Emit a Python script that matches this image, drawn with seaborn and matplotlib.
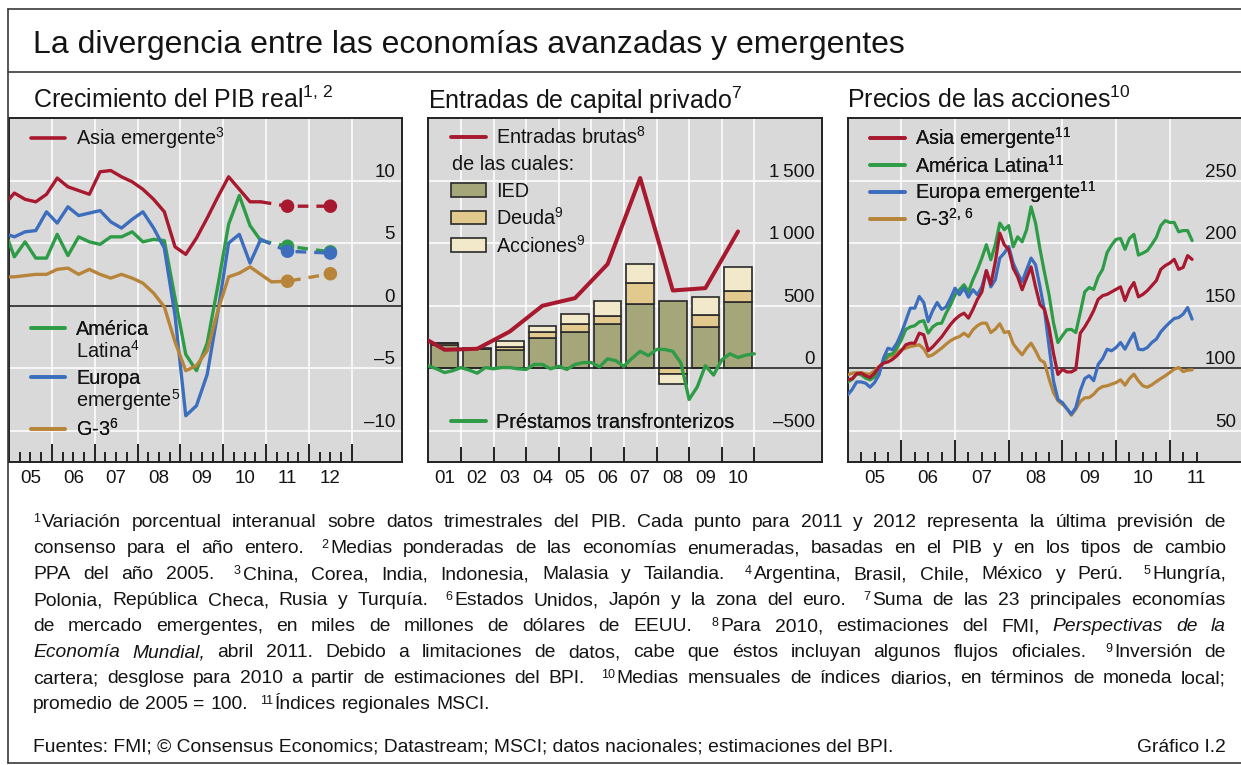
import numpy as np
import pandas as pd
import matplotlib
matplotlib.use("Agg")
import matplotlib.pyplot as plt
import seaborn as sns
from matplotlib.ticker import FuncFormatter, NullFormatter
from matplotlib.lines import Line2D
from matplotlib.patches import Patch

# ---------------------------------------------------------------- DATA
# Panel 1: real GDP growth (% y/y), quarterly, first value = 2004Q4
gdp_first_quarter = 2004.75
gdp_asia = [8.0, 9.0, 8.5, 8.3, 8.9, 10.2, 9.5, 9.2, 8.9, 10.7, 10.8, 10.3, 9.9,
            9.3, 8.5, 7.5, 4.7, 4.1, 5.4, 7.0, 8.7, 10.3, 9.3, 8.3, 8.3]
gdp_latam = [6.2, 3.9, 5.1, 3.8, 3.8, 5.7, 4.0, 5.5, 5.1, 4.9, 5.5, 5.5, 5.9,
             5.1, 5.3, 5.2, 0.6, -3.9, -5.2, -3.0, 1.6, 6.5, 8.8, 6.4, 5.2]
gdp_europe = [5.8, 5.5, 5.9, 6.0, 7.5, 6.6, 7.9, 7.2, 7.4, 7.6, 6.7, 6.2, 6.9,
              7.5, 6.2, 4.6, -0.8, -8.8, -8.0, -5.5, -0.5, 5.0, 5.7, 3.4, 5.3]
gdp_g3 = [2.3, 2.3, 2.4, 2.5, 2.5, 2.9, 3.0, 2.5, 2.9, 2.5, 2.2, 2.5, 2.2,
          1.8, 1.0, -0.1, -2.9, -5.2, -4.8, -3.6, -0.4, 2.3, 2.6, 3.1, 2.5, 1.9]
fc_years = [2011, 2012]
fc_asia = [7.95, 7.95]
fc_latam = [4.75, 4.3]
fc_europe = [4.35, 4.2]
fc_g3 = [1.95, 2.55]

# Panel 2: private capital inflows (USD bn)
flow_years = list(range(2000, 2011))
gross_inflows = [295, 147, 155, 293, 499, 560, 832, 1520, 621, 640, 1093]
bar_years = list(range(2001, 2011))
fdi = [182, 152, 147, 245, 293, 352, 515, 541, 333, 533]
debt = [23, 0, 19, 48, 59, 67, 168, -45, 93, 88]
equity = [0, 13, 48, 48, 80, 117, 149, -80, 147, 184]
loans_first_quarter_end = 2001.0   # end of 2000Q4
cross_border_loans = [19, -5, -35, -20, 5, -15, -40, 5, -5, 5, 5, -5, -10, 30, 30,
                      -5, 15, -10, 30, 45, 45, 10, 75, 60, 15, 80, 135, 100, 150,
                      150, 135, 40, -250, -150, 20, -55, 65, 115, 85, 105, 115]

# Panel 3: equity prices (2005 average = 100), monthly from Jan 2005
stock_first_month = 2005.0
eq_asia = [90.7, 91.5, 95.5, 96, 94, 92.5, 96, 101, 104, 105,
           107, 110, 114, 118.7, 120, 120, 128, 126.7, 114, 117,
           121, 125, 130, 135, 139, 142, 144, 140, 147, 155,
           161, 178, 167, 185, 208, 198.7, 194.7, 180, 173, 162.7,
           172, 181, 165, 150.7, 147, 133, 112, 95, 99, 97,
           97, 99, 128, 133, 139, 146, 155, 158, 159, 161,
           163, 165, 154, 163, 168.5, 157, 159, 162, 166, 170,
           179, 182, 184, 187, 179, 180.5, 190, 187]
eq_latam = [89, 91, 95.5, 94.7, 92, 90.7, 93, 98.7, 105, 110.7,
            111.5, 116, 122.7, 131, 133, 134, 137, 138, 128, 133,
            135.5, 136, 144, 150.7, 158.7, 162.7, 166.7, 161, 170.7, 178.7,
            188, 198.7, 186.7, 198.7, 216, 210.7, 214, 197, 205, 201,
            210.7, 229, 216, 195, 176.5, 159, 136.5, 120.5, 126, 130.7,
            131, 128.5, 144.5, 161, 164.5, 163, 173, 179, 192.5, 198.4,
            203, 203.7, 195, 203.7, 207, 190.4, 192, 194, 199, 204.5,
            214, 218, 216.5, 216.5, 209, 210, 210, 202]
eq_europe = [78.7, 83, 89, 89, 88, 84.8, 88.5, 94.7, 108, 116,
             114.7, 120, 128, 138, 148, 148, 157.3, 152.5, 137.3, 146,
             152.5, 147, 149, 156, 164, 158.7, 164, 156.8, 162.7, 158.7,
             165, 178, 165, 170.7, 188, 192, 197.3, 184, 176, 169,
             178.7, 188, 182.7, 165, 146, 118, 90, 75, 72.5, 67.7,
             63.2, 68.5, 82, 91.7, 94, 90, 103, 107.7, 115.2, 113.9,
             116.5, 120.5, 115.2, 121.9, 128, 115.2, 114.7, 116.5, 120.5, 123.2,
             129, 133, 136.5, 139.7, 140.5, 143.2, 148.5, 139.2]
eq_g3 = [94.7, 96, 96.5, 96.5, 95.5, 95.2, 98, 101.3, 104.5, 108.8,
         110, 112.5, 114.7, 116, 117.3, 118, 118.7, 115.5, 109.3, 110.7,
         113.3, 116, 119.2, 122, 124, 125.3, 128, 125.3, 130.7, 134,
         136, 136, 128.5, 131.2, 135.5, 128.5, 129.3, 119.5, 114.7, 110.7,
         116, 120, 114, 106.7, 104.5, 91.7, 80.5, 73.9, 71.2, 67.7,
         62.4, 67.2, 73.3, 76.3, 76.5, 79.2, 83.2, 85.3, 85.9, 87.2,
         88.5, 90.7, 86.4, 91.7, 95.2, 89.9, 85.9, 84.8, 86.7, 89.3,
         91.7, 93.9, 96.5, 99.2, 100.5, 97.3, 98.4, 98.7]

# Texts
main_title = "La divergencia entre las economías avanzadas y emergentes"
panel_titles = ["Crecimiento del PIB real$^{1,\\,2}$",
                "Entradas de capital privado$^{7}$",
                "Precios de las acciones$^{10}$"]
footnote_lines = [
    "[1]Variación porcentual interanual sobre datos trimestrales del PIB. Cada punto para 2011 y 2012 representa la última previsión de",
    "consenso para el año entero. [2]Medias ponderadas de las economías enumeradas, basadas en el PIB y en los tipos de cambio",
    "PPA del año 2005. [3]China, Corea, India, Indonesia, Malasia y Tailandia. [4]Argentina, Brasil, Chile, México y Perú. [5]Hungría,",
    "Polonia, República Checa, Rusia y Turquía. [6]Estados Unidos, Japón y la zona del euro. [7]Suma de las 23 principales economías",
    "de mercado emergentes, en miles de millones de dólares de EEUU. [8]Para 2010, estimaciones del FMI, _Perspectivas _de _la",
    "_Economía _Mundial, abril 2011. Debido a limitaciones de datos, cabe que éstos incluyan algunos flujos oficiales. [9]Inversión de",
    "cartera; desglose para 2010 a partir de estimaciones del BPI. [10]Medias mensuales de índices diarios, en términos de moneda local;",
    "promedio de 2005 = 100. [11]Índices regionales MSCI.",
]
sources = "Fuentes: FMI; © Consensus Economics; Datastream; MSCI; datos nacionales; estimaciones del BPI."
chart_id = "Gráfico I.2"

# ---------------------------------------------------------------- STYLE
sns.set_style("white")
plt.rcParams['font.family'] = ['Liberation Sans', 'DejaVu Sans']
plt.rcParams['mathtext.fontset'] = 'custom'
plt.rcParams['mathtext.rm'] = 'Liberation Sans'
plt.rcParams['mathtext.it'] = 'Liberation Sans:italic'
plt.rcParams['mathtext.bf'] = 'Liberation Sans:bold'
plt.rcParams['mathtext.sf'] = 'Liberation Sans'
plt.rcParams['axes.unicode_minus'] = False

RED = '#a8182f'
GREEN = '#2e9c47'
BLUE = '#3d6ebd'
GOLD = '#b7843a'
BG = '#d9d9d9'
TXT = '#141414'
DARK = '#222222'
C_FDI = '#a5a67a'
C_DEBT = '#e2c98d'
C_EQ = '#f1e9c9'

W, H = 1241, 765
fig = plt.figure(figsize=(W / 100, H / 100), dpi=100)


def add_ax(x0, x1, y0=118, y1=462):
    return fig.add_axes([x0 / W, 1 - y1 / H, (x1 - x0) / W, (y1 - y0) / H])


def year_fmt(v, pos):
    fl = np.floor(v + 1e-9)
    if abs(v - fl - 0.5) < 1e-6:
        return f"{int(fl) % 100:02d}"
    return ""


def setup(ax, xlim, ylim, yticks, ylabels, zero, majors, minors, major_len, minor_len):
    ax.set_facecolor(BG)
    ax.set_xlim(*xlim)
    ax.set_ylim(*ylim)
    for s in ax.spines.values():
        s.set_color(DARK)
        s.set_linewidth(1.4)
        s.set_visible(True)
    ax.set_yticks(yticks, labels=ylabels)
    ax.yaxis.tick_right()
    ax.tick_params(axis='y', which='both', length=0, pad=-5, labelsize=13.5,
                   labelcolor=TXT, right=False, left=False, labelright=True, labelleft=False)
    plt.setp(ax.get_yticklabels(), ha='right', va='bottom')
    ax.set_xticks(majors)
    ax.set_xticks(minors, minor=True)
    ax.xaxis.set_major_formatter(NullFormatter())
    ax.xaxis.set_minor_formatter(FuncFormatter(year_fmt))
    ax.tick_params(axis='x', which='major', direction='in', length=major_len, width=1.4,
                   color=DARK, bottom=True, top=False)
    ax.tick_params(axis='x', which='minor', direction='in', length=minor_len, width=1.4,
                   color=DARK, bottom=True, top=False, pad=6, labelsize=13.5, labelcolor=TXT)
    ax.grid(True, which='major', color='white', linewidth=1.1)
    ax.set_axisbelow(True)
    ax.axhline(zero, color=DARK, linewidth=1.2, zorder=2.6)
    ax.set_xlabel("")
    ax.set_ylabel("")


def fmt_num(v):
    s = f"{abs(v):,.0f}".replace(",", "\u2009")
    return ("–" + s) if v < 0 else s


def leg(ax, handles, labels, anchor, spacing=0.15, hl=1.76, pad=0.52, fs=14.3):
    lg = ax.legend(handles, labels, loc='upper left', bbox_to_anchor=anchor,
                   frameon=False, borderpad=0, borderaxespad=0, handlelength=hl,
                   handletextpad=pad, labelspacing=spacing, fontsize=fs,
                   labelcolor=TXT)
    ax.add_artist(lg)
    return lg


TOP_ANCHOR = 0.978

# ---------------------------------------------------------------- PANEL 1
ax1 = add_ax(9, 402)
q_x = lambda n: gdp_first_quarter + 0.125 + 0.25 * np.arange(n)
p1_series = [(gdp_asia, fc_asia, RED), (gdp_latam, fc_latam, GREEN),
             (gdp_europe, fc_europe, BLUE), (gdp_g3, fc_g3, GOLD)]
for vals, fc, col in p1_series:
    xs = q_x(len(vals))
    df = pd.DataFrame({'x': xs, 'y': vals})
    sns.lineplot(data=df, x='x', y='y', ax=ax1, color=col, linewidth=2.4,
                 estimator=None, sort=False, zorder=3)
    fx = [xs[-1]] + [y + 0.5 for y in fc_years]
    fy = [vals[-1]] + list(fc)
    sns.lineplot(x=fx, y=fy, ax=ax1, color=col, linewidth=2.4, estimator=None,
                 sort=False, linestyle=(0, (3.2, 2.4)), zorder=3)
    sns.scatterplot(x=[y + 0.5 for y in fc_years], y=fc, ax=ax1, color=col, s=95,
                    edgecolor='none', zorder=4)
yt1 = [-10, -5, 0, 5, 10]
setup(ax1, (2005, 2005 + 393 / 42.85), (-12.5, 15), yt1, [fmt_num(v) for v in yt1], 0,
      list(range(2006, 2014)),
      [y + q for y in range(2005, 2013) for q in (0.25, 0.5, 0.75)], 13, 7.2)
leg(ax1, [Line2D([], [], color=RED, lw=2.6)], ["Asia emergente$^{3}$"],
    (0.056, TOP_ANCHOR), hl=1.71, pad=0.55)
leg(ax1, [Line2D([], [], color=GREEN, lw=2.6), Line2D([], [], color=BLUE, lw=2.6),
          Line2D([], [], color=GOLD, lw=2.6)],
    ["América", "Europa", "G-3$^{6}$"], (0.056, 0.414), spacing=1.52, hl=1.71, pad=0.55)
ax1.text(0.1705, 1 - (351 - 118) / 344, "Latina$^{4}$", transform=ax1.transAxes,
         fontsize=14.3, color=TXT, va='center', ha='left')
ax1.text(0.1705, 1 - (400 - 118) / 344, "emergente$^{5}$", transform=ax1.transAxes,
         fontsize=14.3, color=TXT, va='center', ha='left')

# ---------------------------------------------------------------- PANEL 2
ax2 = add_ax(428.3, 822)
bx = np.array(bar_years) + 0.5
pos_cum = np.zeros(len(bar_years))
neg_cum = np.zeros(len(bar_years))
for comp, col in [(fdi, C_FDI), (debt, C_DEBT), (equity, C_EQ)]:
    comp = np.array(comp, dtype=float)
    bottoms = np.where(comp >= 0, pos_cum, neg_cum)
    ax2.bar(bx, comp, width=0.85, bottom=bottoms, color=col, edgecolor='#2a2a2a',
            linewidth=1.2, zorder=2)
    pos_cum = pos_cum + np.where(comp >= 0, comp, 0)
    neg_cum = neg_cum + np.where(comp < 0, comp, 0)
df_flow = pd.DataFrame({'x': np.array(flow_years) + 0.5, 'y': gross_inflows})
sns.lineplot(data=df_flow, x='x', y='y', ax=ax2, color=RED, linewidth=2.9,
             estimator=None, sort=False, zorder=3)
lx = loans_first_quarter_end + 0.25 * np.arange(len(cross_border_loans))
df_loans = pd.DataFrame({'x': lx, 'y': cross_border_loans})
sns.lineplot(data=df_loans, x='x', y='y', ax=ax2, color=GREEN, linewidth=2.4,
             estimator=None, sort=False, zorder=3)
yt2 = [-500, 0, 500, 1000, 1500]
setup(ax2, (2001, 2001 + 393.7 / 32.6), (-750, 2000), yt2, [fmt_num(v) for v in yt2], 0,
      list(range(2002, 2012)), [y + 0.5 for y in range(2001, 2011)], 11, 0)
leg(ax2, [Line2D([], [], color=RED, lw=2.8)], ["Entradas brutas$^{8}$"], (0.058, TOP_ANCHOR))
ax2.text(0.061, 0.866, "de las cuales:", transform=ax2.transAxes, fontsize=14.3,
         color=TXT, va='center', ha='left')
leg(ax2, [Patch(facecolor=C_FDI, edgecolor='#2a2a2a', lw=1.2),
          Patch(facecolor=C_DEBT, edgecolor='#2a2a2a', lw=1.2),
          Patch(facecolor=C_EQ, edgecolor='#2a2a2a', lw=1.2)],
    ["IED", "Deuda$^{9}$", "Acciones$^{9}$"], (0.058, 0.815), spacing=0.3)
leg(ax2, [Line2D([], [], color=GREEN, lw=2.6)], ["Préstamos transfronterizos"],
    (0.058, 0.143))

# ---------------------------------------------------------------- PANEL 3
ax3 = add_ax(847.7, 1243)
mx = stock_first_month + np.arange(len(eq_asia)) / 12.0
for vals, col in [(eq_g3, GOLD), (eq_latam, GREEN), (eq_europe, BLUE), (eq_asia, RED)]:
    df = pd.DataFrame({'x': mx, 'y': vals})
    sns.lineplot(data=df, x='x', y='y', ax=ax3, color=col, linewidth=2.3,
                 estimator=None, sort=False, zorder=3)
yt3 = [50, 100, 150, 200, 250]
setup(ax3, (2005, 2005 + 395.3 / 53.67), (25, 300), yt3, [fmt_num(v) for v in yt3], 100,
      list(range(2006, 2012)),
      [y + q for y in range(2005, 2012) for q in (0.25, 0.5, 0.75) if y + q <= 2011.5],
      16, 7.2)
leg(ax3, [Line2D([], [], color=c, lw=2.6) for c in (RED, GREEN, BLUE, GOLD)],
    ["Asia emergente$^{11}$", "América Latina$^{11}$", "Europa emergente$^{11}$",
     "G-3$^{2,\\,6}$"], (0.056, TOP_ANCHOR), spacing=0.15)

# ---------------------------------------------------------------- FRAME & TITLES
FR = '#3a3a3a'
for (x0, y0, x1, y1) in [(8, 9, W, 9), (8, 72, W, 72), (8, 9, 8, 763), (8, 763, W, 763)]:
    fig.add_artist(Line2D([x0 / W, x1 / W], [1 - y0 / H, 1 - y1 / H],
                          transform=fig.transFigure, color=FR, linewidth=1.2))
fig.text(33 / W, 1 - 53.5 / H, main_title, fontsize=23, color=TXT, ha='left', va='baseline')
for xpos, t in zip([33, 428, 847], panel_titles):
    fig.text(xpos / W, 1 - 108.5 / H, t, fontsize=18, color=TXT, ha='left', va='baseline')

# ---------------------------------------------------------------- FOOTNOTES
renderer = fig.canvas.get_renderer()
FN = 13.9
SUP = 9
LEFT, RIGHT = 33, 1226


def measure(s, **kw):
    t = fig.text(0, 0, s, **kw)
    w = t.get_window_extent(renderer).width
    t.remove()
    return w


space_w = measure("a a", fontsize=FN) - measure("aa", fontsize=FN)
SUP_GAP = 2.0
EXTRA = 1.3 * space_w

for k, line in enumerate(footnote_lines):
    yb = 527 + 26 * k
    items = []
    for word in line.split(" "):
        sup = None
        if word.startswith("["):
            j = word.index("]")
            sup = word[1:j]
            word = word[j + 1:]
        italic = word.startswith("_")
        if italic:
            word = word[1:]
        ws = measure(sup, fontsize=SUP) if sup else 0.0
        wm = measure(word, fontsize=FN, style='italic' if italic else 'normal')
        items.append((sup, word, italic, ws, wm))
    total = sum(it[3] + (SUP_GAP if it[0] else 0) + it[4] for it in items)
    n_extra = sum(1 for i, it in enumerate(items) if i > 0 and it[0])
    justify = k < len(footnote_lines) - 1
    if justify and len(items) > 1:
        gap = (RIGHT - LEFT - total - n_extra * EXTRA) / (len(items) - 1)
        gap = max(gap, 0.55 * space_w)
    else:
        gap = space_w
    x = LEFT
    for i, (sup, word, italic, ws, wm) in enumerate(items):
        if i > 0:
            x += gap + (EXTRA if sup else 0)
        if sup:
            fig.text(x / W, 1 - (yb - 5.5) / H, sup, fontsize=SUP, color=TXT,
                     ha='left', va='baseline')
            x += ws + SUP_GAP
        fig.text(x / W, 1 - yb / H, word, fontsize=FN, color=TXT, ha='left',
                 va='baseline', style='italic' if italic else 'normal')
        x += wm

fig.text(LEFT / W, 1 - 752 / H, sources, fontsize=FN, color=TXT, ha='left', va='baseline')
fig.text(RIGHT / W, 1 - 752 / H, chart_id, fontsize=FN, color=TXT, ha='right', va='baseline')

fig.savefig("out.png", dpi=100)
